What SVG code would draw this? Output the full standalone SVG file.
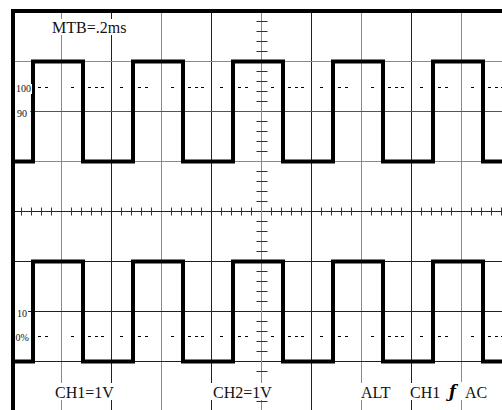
<svg xmlns="http://www.w3.org/2000/svg" width="502" height="410" viewBox="0 0 502 410">
<style>
.gd{stroke:#222;stroke-width:1;fill:none}
.gl{stroke:#8a8a8a;stroke-width:1;fill:none}
.tk{stroke:#333;stroke-width:1;fill:none}
.dash{stroke:#000;stroke-width:1;fill:none;stroke-dasharray:3 4 3 23 3 14 3 4 3 3 3 16 3 15}
.wave{stroke:#000;stroke-width:4;fill:none;stroke-linejoin:miter}
.bg{fill:#fff}
.lbl{font-family:"Liberation Serif","Times New Roman",serif;font-size:16px;fill:#111}
.sm{font-family:"Liberation Serif","Times New Roman",serif;font-size:10px;fill:#111}
</style>
<rect x="0" y="0" width="502" height="410" fill="#fff"/>
<g id="grid">
<path class="gl" d="M61.5 12V410M161.5 12V410M361.5 12V410M461.5 12V410"/>
<path class="gd" d="M111.5 12V410M211.5 12V410M311.5 12V410M411.5 12V410"/>
<path class="gl" d="M13 61.5H502M13 161.5H502"/>
<path stroke="#555" stroke-width="1" fill="none" d="M13 111.5H502"/>
<path class="gd" d="M13 211.5H502M13 261.5H502M13 311.5H502M13 361.5H502"/>
</g>
<g id="axes">
<path class="gl" d="M261.5 12V410"/>
<path class="tk" d="M21.5 207.5v8M31.5 207.5v8M41.5 207.5v8M51.5 207.5v8M71.5 207.5v8M81.5 207.5v8M91.5 207.5v8M101.5 207.5v8M121.5 207.5v8M131.5 207.5v8M141.5 207.5v8M151.5 207.5v8M171.5 207.5v8M181.5 207.5v8M191.5 207.5v8M201.5 207.5v8M221.5 207.5v8M231.5 207.5v8M241.5 207.5v8M251.5 207.5v8M271.5 207.5v8M281.5 207.5v8M291.5 207.5v8M301.5 207.5v8M321.5 207.5v8M331.5 207.5v8M341.5 207.5v8M351.5 207.5v8M371.5 207.5v8M381.5 207.5v8M391.5 207.5v8M401.5 207.5v8M421.5 207.5v8M431.5 207.5v8M441.5 207.5v8M451.5 207.5v8M471.5 207.5v8M481.5 207.5v8M491.5 207.5v8M501.5 207.5v8"/>
<path class="tk" d="M256.5 21.5h11M256.5 31.5h11M256.5 41.5h11M256.5 51.5h11M256.5 71.5h11M256.5 81.5h11M256.5 91.5h11M256.5 101.5h11M256.5 121.5h11M256.5 131.5h11M256.5 141.5h11M256.5 151.5h11M256.5 171.5h11M256.5 181.5h11M256.5 191.5h11M256.5 201.5h11M256.5 221.5h11M256.5 231.5h11M256.5 241.5h11M256.5 251.5h11M256.5 271.5h11M256.5 281.5h11M256.5 291.5h11M256.5 301.5h11M256.5 321.5h11M256.5 331.5h11M256.5 341.5h11M256.5 351.5h11M256.5 371.5h11M256.5 401.5h11"/>
</g>
<g id="reference-lines">
<path class="dash" d="M38 87.5H502"/>
<path class="dash" d="M38 336.5H502"/>
</g>
<g id="waves">
<path id="ch1-wave" class="wave" d="M13 161.5H33V61.5H83V161.5H133V61.5H183V161.5H233V61.5H283V161.5H333V61.5H383V161.5H433V61.5H483V161.5H504"/>
<path id="ch2-wave" class="wave" d="M13 361.5H33V261.5H83V361.5H133V261.5H183V361.5H233V261.5H283V361.5H333V261.5H383V361.5H433V261.5H483V361.5H504"/>
</g>
<g id="frame">
<path stroke="#000" stroke-width="4" fill="none" d="M13 410V11H502"/>
</g>
<g id="labels">
<g id="mtb"><rect class="bg" x="50" y="19" width="76" height="16"/><text class="lbl" x="52" y="33">MTB=.2ms</text></g>
<g id="lvl100"><rect class="bg" x="15" y="84" width="17" height="10"/><text class="sm" x="16" y="92">100</text></g>
<g id="lvl90"><rect class="bg" x="15" y="108" width="15" height="10"/><text class="sm" x="17" y="116.5">90</text></g>
<g id="lvl10"><rect class="bg" x="15" y="308" width="13" height="10"/><text class="sm" x="17" y="317">10</text></g>
<g id="lvl0"><rect class="bg" x="15" y="332" width="16" height="10"/><text class="sm" x="15.5" y="341">0%</text></g>
<g id="ch1"><rect class="bg" x="53" y="383" width="62" height="17"/><text class="lbl" x="55" y="398">CH1=1V</text></g>
<g id="ch2"><rect class="bg" x="211" y="383" width="62" height="17"/><text class="lbl" x="213" y="398">CH2=1V</text></g>
<g id="alt"><rect class="bg" x="359" y="383" width="34" height="17"/><text class="lbl" x="361" y="398">ALT</text></g>
<g id="trig-src"><rect class="bg" x="408" y="383" width="32" height="17"/><text class="lbl" x="410" y="398">CH1</text></g>
<g id="trig"><rect class="bg" x="447" y="382" width="42" height="18"/><text x="449" y="397" style="font-family:'DejaVu Serif',serif;font-weight:bold;font-style:italic;font-size:16px;fill:#000">ƒ</text><text class="lbl" x="465" y="398">AC</text></g>
</g>
</svg>
